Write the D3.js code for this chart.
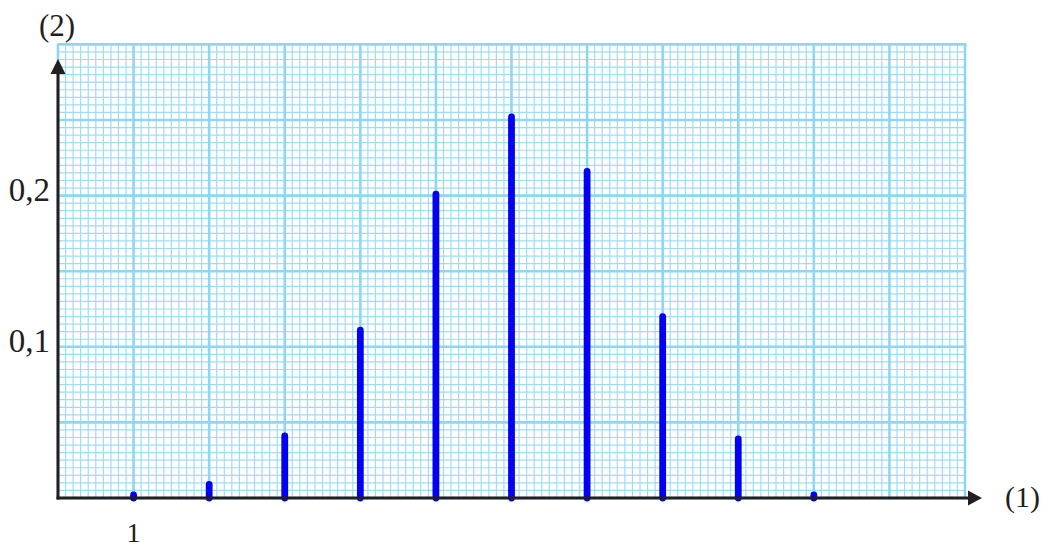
<!DOCTYPE html>
<html>
<head>
<meta charset="utf-8">
<script src="https://d3js.org/d3.v7.min.js"></script>
<style>
    body { margin: 0; background: #fff; }
    svg { display: block; }
    text { font-family: "Liberation Serif", "Times New Roman", serif; fill: #231f20; }
</style>
</head>
<body>
<svg id="chart" width="1044" height="549"></svg>
<script>
    // data
    const xValues = [1, 2, 3, 4, 5, 6, 7, 8, 9, 10];
    const probs = [0.004, 0.011, 0.043, 0.113, 0.203, 0.254, 0.218, 0.122, 0.041, 0.004];
    const yTicks = [0.1, 0.2];
    const yTickLabels = ["0,1", "0,2"];
    const xTicks = [1];
    const xTickLabels = ["1"];

    const svg = d3.select("#chart");

    // one major cell = 1 unit on x, 0.05 on y
    const x = d3.scaleLinear().domain([0, 12]).range([58, 965]);
    const y = d3.scaleLinear().domain([0, 0.3]).range([498, 44.4]);

    const grid = svg.append("g");

    // minor lines (1/10 of a cell)
    grid.selectAll(".vmin")
        .data(d3.range(0, 121).filter(i => i % 10 !== 0))
        .enter().append("line")
        .attr("x1", i => x(i / 10)).attr("x2", i => x(i / 10))
        .attr("y1", y(0)).attr("y2", y(0.3))
        .attr("stroke", "#9edcf6").attr("stroke-width", 1.2);

    grid.selectAll(".hmin")
        .data(d3.range(0, 61).filter(i => i % 10 !== 0))
        .enter().append("line")
        .attr("x1", x(0)).attr("x2", x(12))
        .attr("y1", i => y(i * 0.005)).attr("y2", i => y(i * 0.005))
        .attr("stroke", "#9edcf6").attr("stroke-width", 1.2);

    // major lines
    grid.selectAll(".vmaj")
        .data(d3.range(0, 13))
        .enter().append("line")
        .attr("x1", d => x(d)).attr("x2", d => x(d))
        .attr("y1", y(0)).attr("y2", y(0.3) - 1)
        .attr("stroke", "#8dd7f5").attr("stroke-width", 2.6);

    grid.selectAll(".hmaj")
        .data(d3.range(0, 7))
        .enter().append("line")
        .attr("x1", x(0)).attr("x2", x(12) + 1.3)
        .attr("y1", d => y(d * 0.05)).attr("y2", d => y(d * 0.05))
        .attr("stroke", "#8dd7f5").attr("stroke-width", 2.6);

    // bars
    svg.append("g").selectAll("line")
        .data(xValues)
        .enter().append("line")
        .attr("x1", (d) => x(d)).attr("x2", (d) => x(d))
        .attr("y1", y(0)).attr("y2", (d, i) => y(probs[i]) + 3)
        .attr("stroke", "#0000f5")
        .attr("stroke-width", 6.8)
        .attr("stroke-linecap", "round");

    // axes with arrows
    const axis = svg.append("g").attr("fill", "#231f20").attr("stroke", "#231f20");
    axis.append("line")
        .attr("x1", x(0) - 1.5).attr("x2", 970)
        .attr("y1", y(0)).attr("y2", y(0))
        .attr("stroke-width", 3);
    axis.append("path")
        .attr("stroke", "none")
        .attr("d", `M968,${y(0) - 7.5}L982,${y(0)}L968,${y(0) + 7.5}Z`);
    axis.append("line")
        .attr("x1", x(0)).attr("x2", x(0))
        .attr("y1", y(0) + 1.5).attr("y2", 70)
        .attr("stroke-width", 3);
    axis.append("path")
        .attr("stroke", "none")
        .attr("d", `M${x(0) - 7.5},74L${x(0)},59L${x(0) + 7.5},74Z`);

    // labels
    svg.selectAll(".ytick")
        .data(yTicks)
        .enter().append("text")
        .attr("x", 50)
        .attr("y", d => y(d) + 5)
        .attr("text-anchor", "end")
        .style("font-size", "33px")
        .text((d, i) => yTickLabels[i]);

    svg.selectAll(".xtick")
        .data(xTicks)
        .enter().append("text")
        .attr("x", d => x(d))
        .attr("y", 542)
        .attr("text-anchor", "middle")
        .style("font-size", "28px")
        .text((d, i) => xTickLabels[i]);

    svg.append("text")
        .attr("x", 57).attr("y", 36)
        .attr("text-anchor", "middle")
        .style("font-size", "31px")
        .text("(2)");

    svg.append("text")
        .attr("x", 1005).attr("y", 507)
        .style("font-size", "30px")
        .text("(1)");
</script>
</body>
</html>
